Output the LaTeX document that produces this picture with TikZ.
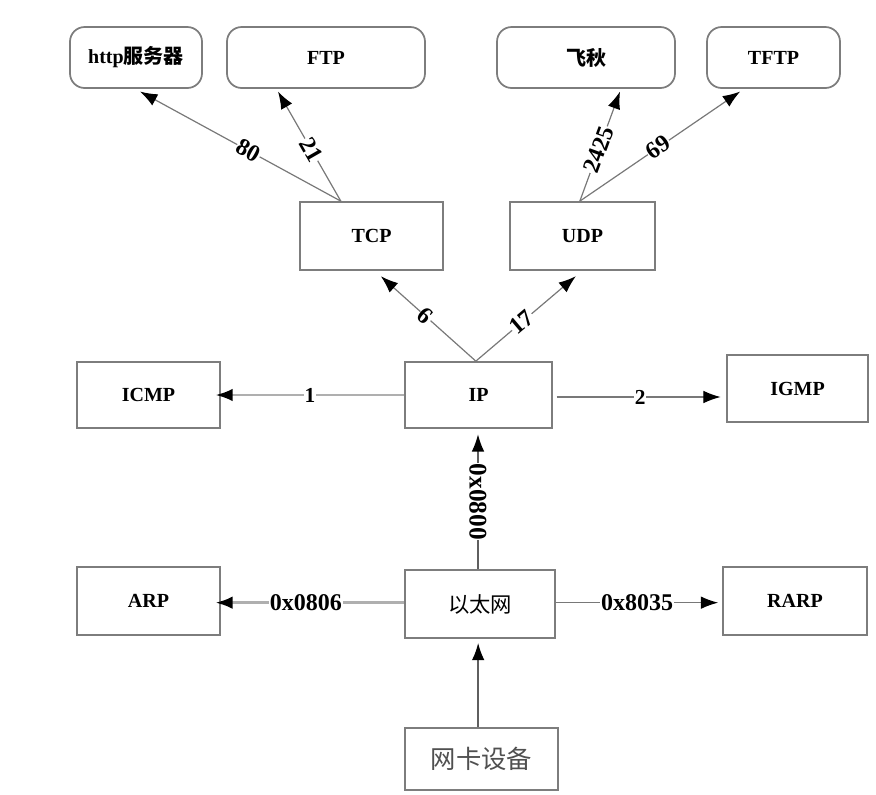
\documentclass[tikz,border=0pt]{standalone}
\usepackage{fontspec}
\setmainfont{Liberation Serif}
\newfontfamily\cjk{Noto Sans CJK SC}
\usetikzlibrary{arrows.meta}
\begin{document}
\begin{tikzpicture}[x=0.75pt,y=-0.75pt,
  box/.style={draw={rgb,255:red,125;green,125;blue,125},line width=1.3pt,fill=white,
    minimum height=50pt,inner sep=0pt,font=\fontsize{15}{17}\selectfont\bfseries},
  app/.style={box,rounded corners=11pt,minimum height=45.75pt},
  conn/.style={draw={rgb,255:red,120;green,120;blue,120},line width=0.9pt,
    -{Latex[color=black,length=13pt,width=9.5pt]}},
  dark/.style={conn,draw={rgb,255:red,95;green,95;blue,95},line width=1.3pt},
  wide/.style={conn,draw={rgb,255:red,175;green,175;blue,175},line width=2.2pt},
  lab/.style={fill=white,inner sep=0.5pt,font=\fontsize{18}{20}\selectfont\bfseries,sloped}
]
\useasboundingbox (0,0) rectangle (876,794);
% application layer
\node[app,minimum width=99pt] (http) at (136,57.5) {http{\cjk 服务器}};
\node[app,minimum width=148.5pt] (ftp) at (326,57.5) {FTP};
\node[app,minimum width=133.5pt] (fq) at (586,57.5) {\cjk 飞秋};
\node[app,minimum width=99.75pt] (tftp) at (773.5,57.5) {TFTP};
% transport
\node[box,minimum width=107pt,minimum height=51pt] (tcp) at (371.5,236) {TCP};
\node[box,minimum width=109pt,minimum height=51pt] (udp) at (582.5,236) {UDP};
% network
\node[box,minimum width=107pt,minimum height=49.5pt] (icmp) at (148.5,395) {ICMP};
\node[box,minimum width=110pt,minimum height=49.5pt] (ip) at (478.5,395) {IP};
\node[box,minimum width=106pt,minimum height=50pt] (igmp) at (797.5,388.5) {IGMP};
% link
\node[box,minimum width=107pt,minimum height=51pt] (arp) at (148.5,601) {ARP};
\node[box,minimum width=112.5pt,minimum height=51pt,font=\fontsize{16}{18}\selectfont\cjk] (eth) at (480,604) {以太网};
\node[box,minimum width=108pt,minimum height=51pt] (rarp) at (795,601) {RARP};
\node[box,minimum width=115pt,minimum height=46.5pt,text={rgb,255:red,80;green,80;blue,80},font=\fontsize{19}{21}\selectfont\cjk] (nic) at (481.5,759) {网卡设备};
% TCP -> apps
\draw[conn] ([xshift=-23pt]tcp.north) -- ([xshift=3pt,yshift=-2pt]http.south) node[lab,pos=0.46] {80};
\draw[conn] ([xshift=-23pt]tcp.north) -- ([xshift=-36pt,yshift=-2pt]ftp.south) node[lab,pos=0.47] {21};
% UDP -> apps
\draw[conn] ([xshift=-2pt]udp.north) -- ([xshift=25.5pt,yshift=-2pt]fq.south) node[lab,pos=0.47] {2425};
\draw[conn] ([xshift=-2pt]udp.north) -- ([xshift=-25pt,yshift=-2pt]tftp.south) node[lab,pos=0.49] {69};
% IP -> transport
\draw[conn] ([xshift=-2pt]ip.north) -- ([xshift=7pt,yshift=-4pt]tcp.south) node[lab,pos=0.53] {6};
\draw[conn] ([xshift=-2pt]ip.north) -- ([xshift=-5pt,yshift=-4pt]udp.south) node[lab,pos=0.46] {17};
% IP -> ICMP / IGMP
\draw[wide] (ip.west) -- ([xshift=-4pt]icmp.east) node[lab,pos=0.5,font=\fontsize{16}{18}\selectfont\bfseries] {1};
\draw[conn] ([xshift=3pt,yshift=-1.5pt]ip.east) -- ([xshift=-4pt,yshift=-1.5pt]ip.east -| igmp.west) node[lab,pos=0.51,font=\fontsize{16}{18}\selectfont\bfseries] {2};
% Ethernet
\draw[dark] ([xshift=-1.5pt]eth.north) -- ([xshift=-1.5pt,yshift=-4pt]eth.north |- ip.south) node[lab,pos=0.5,sloped=false,rotate=-90,font=\fontsize{19}{21}\selectfont\bfseries] {0x0800};
\draw[wide] ([yshift=1pt]eth.west) -- ([xshift=-4pt,yshift=1pt]eth.west -| arp.east) node[lab,pos=0.52] {0x0806};
\draw[conn] ([yshift=1pt]eth.east) -- ([xshift=-3pt,yshift=1pt]eth.east -| rarp.west) node[lab,pos=0.5] {0x8035};
\draw[dark] ([xshift=-2.5pt]nic.north) -- ([xshift=-2.5pt,yshift=-3pt]nic.north |- eth.south);
\end{tikzpicture}
\end{document}
